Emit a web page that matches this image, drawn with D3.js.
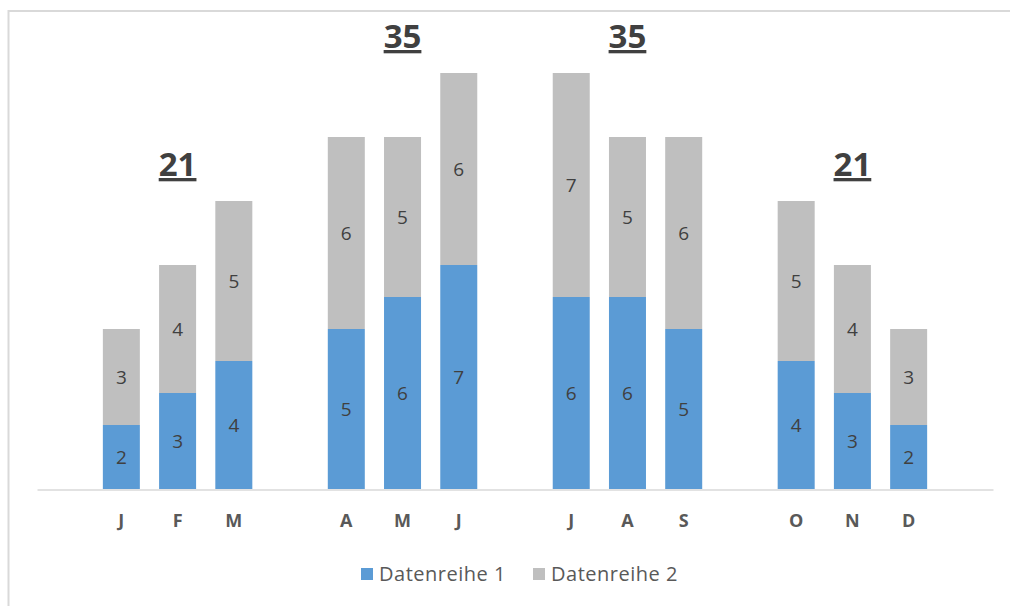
<!DOCTYPE html>
<html>
<head>
<meta charset="utf-8">
<script src="https://cdn.jsdelivr.net/npm/d3@7"></script>
<style>
  html, body { margin: 0; padding: 0; background: #fff; }
  svg { display: block; }
  text { font-family: "Open Sans", "Noto Sans", sans-serif; }
</style>
</head>
<body>
<svg id="chart" width="1010" height="606"></svg>
<script>
// ---- data ----
const months = ["J","F","M","A","M","J","J","A","S","O","N","D"];
const series1 = [2,3,4,5,6,7,6,6,5,4,3,2];
const series2 = [3,4,5,6,5,6,7,5,6,5,4,3];
const seriesNames = ["Datenreihe 1","Datenreihe 2"];
const colors = ["#5B9BD5","#BFBFBF"];
const groupSize = 3;

// ---- layout ----
const svg = d3.select("#chart");
const plot = {left: 37, right: 993, top: 73, bottom: 489};

// slot index: one empty slot between quarters
const slotOf = i => i + Math.floor(i / groupSize);
const nSlots = slotOf(months.length - 1) + 1;

const x = d3.scaleBand()
  .domain(d3.range(nSlots))
  .range([plot.left, plot.right])
  .paddingInner(0.342)
  .paddingOuter(1.171);

const y = d3.scaleLinear()
  .domain([0, 13])
  .range([plot.bottom, plot.top]);

// border
svg.append("rect")
  .attr("x", 8.5).attr("y", 11)
  .attr("width", 1010).attr("height", 620)
  .attr("fill", "none")
  .attr("stroke", "#d9d9d9")
  .attr("stroke-width", 2);

// stacked data
const rows = months.map((m, i) => ({i, m, s1: series1[i], s2: series2[i]}));
const stack = d3.stack().keys(["s1","s2"])(rows);

const g = svg.append("g");
stack.forEach((layer, k) => {
  g.append("g").selectAll("rect")
    .data(layer)
    .join("rect")
    .attr("x", d => x(slotOf(d.data.i)))
    .attr("width", x.bandwidth())
    .attr("y", d => y(d[1]))
    .attr("height", d => y(d[0]) - y(d[1]))
    .attr("fill", colors[k]);

  g.append("g").selectAll("text")
    .data(layer)
    .join("text")
    .attr("x", d => x(slotOf(d.data.i)) + x.bandwidth() / 2)
    .attr("y", d => (y(d[0]) + y(d[1])) / 2)
    .attr("dy", "0.36em")
    .attr("text-anchor", "middle")
    .attr("font-size", 19)
    .attr("fill", "#404040")
    .text(d => d[1] - d[0]);
});

// axis line
const xAxis = d3.axisBottom(x).tickSize(0).tickFormat(() => "");
const ax = svg.append("g")
  .attr("transform", `translate(0,${plot.bottom + 0.5})`)
  .call(xAxis);
ax.select(".domain").attr("stroke", "#d9d9d9").attr("stroke-width", 1.5);

// category labels
svg.append("g").selectAll("text")
  .data(rows)
  .join("text")
  .attr("x", d => x(slotOf(d.i)) + x.bandwidth() / 2)
  .attr("y", 527)
  .attr("text-anchor", "middle")
  .attr("font-size", 18)
  .attr("font-weight", "bold")
  .attr("fill", "#595959")
  .text(d => d.m);

// quarter totals
const groups = d3.range(months.length / groupSize).map(q => {
  const idx = d3.range(q * groupSize, (q + 1) * groupSize);
  const total = d3.sum(idx, i => series1[i] + series2[i]);
  const maxV = d3.max(idx, i => series1[i] + series2[i]);
  return {q, mid: idx[1], total, maxV};
});
svg.append("g").selectAll("text")
  .data(groups)
  .join("text")
  .attr("x", d => x(slotOf(d.mid)) + x.bandwidth() / 2)
  .attr("y", d => y(d.maxV) - 25)
  .attr("text-anchor", "middle")
  .attr("font-size", 33)
  .attr("font-weight", "bold")
  .attr("fill", "#404040")
  .attr("text-decoration", "underline")
  .text(d => d.total);

// legend
const legend = svg.append("g");
const legendX = [361, 533];
seriesNames.forEach((name, k) => {
  legend.append("rect")
    .attr("x", legendX[k]).attr("y", 568)
    .attr("width", 12).attr("height", 12)
    .attr("fill", colors[k]);
  legend.append("text")
    .attr("x", legendX[k] + 18).attr("y", 581)
    .attr("font-size", 20)
    .attr("letter-spacing", 0.5)
    .attr("fill", "#595959")
    .text(name);
});
</script>
</body>
</html>
